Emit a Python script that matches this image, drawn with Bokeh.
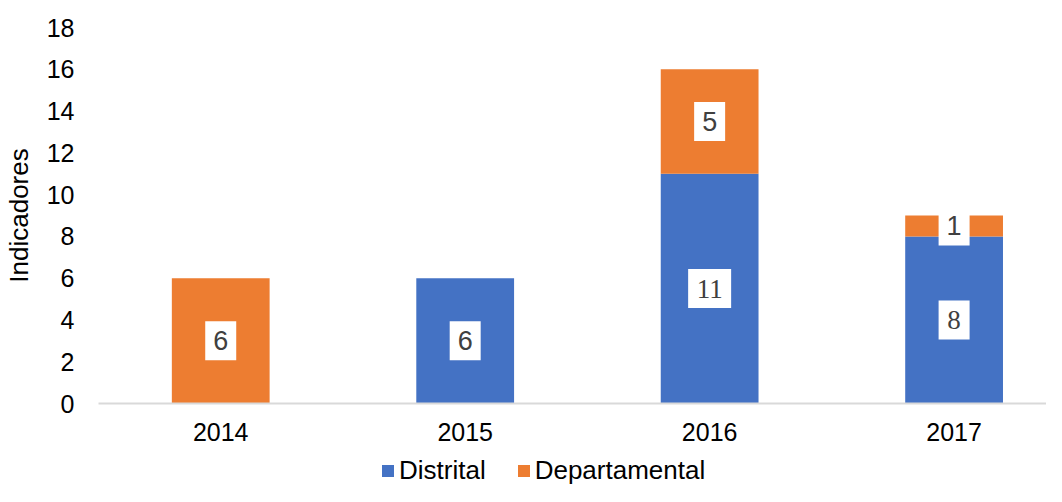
from bokeh.plotting import figure
from bokeh.layouts import column
from bokeh.models import Range1d, FixedTicker, Legend, LegendItem, ColumnDataSource
from bokeh.embed import file_html
from bokeh.resources import INLINE

# ---- data ----
years = ["2014", "2015", "2016", "2017"]
distrital = [0, 6, 11, 8]
departamental = [6, 0, 5, 1]
series_names = ["Distrital", "Departamental"]
y_ticks = [0, 2, 4, 6, 8, 10, 12, 14, 16, 18]

# ---- styles ----
colors = ["#4472C4", "#ED7D31"]
SANS = "Liberation Sans"
SERIF = "Liberation Serif"

xs = [i + 0.5 for i in range(len(years))]
totals = [a + b for a, b in zip(distrital, departamental)]

p = figure(width=1046, height=452, output_backend="svg", toolbar_location=None,
           x_range=Range1d(0, 3.878), y_range=Range1d(0, 18),
           min_border_left=96, min_border_right=0, min_border_top=27, min_border_bottom=49)

r1 = p.vbar(x=xs, bottom=0, top=distrital, width=0.4, fill_color=colors[0], line_color=None)
r2 = p.vbar(x=xs, bottom=distrital, top=totals, width=0.4, fill_color=colors[1], line_color=None)

# data labels in white boxes
lx, ly, lt, lw, lf = [], [], [], [], []
dist_fonts = [SANS, SANS, SERIF, SERIF]
for i in range(len(years)):
    if distrital[i] > 0:
        lx.append(xs[i]); ly.append(distrital[i] / 2); lt.append(str(distrital[i]))
        lw.append(31 if distrital[i] < 10 else 43); lf.append(dist_fonts[i])
    if departamental[i] > 0:
        lx.append(xs[i]); ly.append(distrital[i] + departamental[i] / 2); lt.append(str(departamental[i]))
        lw.append(31 if departamental[i] < 10 else 43); lf.append(SANS)
src = ColumnDataSource(dict(x=lx, y=ly, t=lt, w=lw, f=lf))
p.rect(x="x", y="y", width="w", height=39, width_units="screen", height_units="screen",
       source=src, fill_color="white", line_color=None)
p.text(x="x", y="y", text="t", source=src, text_font="f", text_font_size="27px",
       text_align="center", text_baseline="middle", text_color="#404040")

p.xgrid.visible = False
p.ygrid.visible = False
p.outline_line_color = None

p.xaxis.ticker = FixedTicker(ticks=xs)
p.xaxis.major_label_overrides = {x: y for x, y in zip(xs, years)}
p.xaxis.axis_line_color = "#D9D9D9"
p.xaxis.axis_line_width = 2
p.xaxis.major_tick_line_color = None
p.xaxis.minor_tick_line_color = None
p.xaxis.major_tick_out = 0
p.xaxis.major_label_standoff = 19
p.xaxis.major_label_text_font = SANS
p.xaxis.major_label_text_font_size = "25px"
p.xaxis.major_label_text_color = "#000000"

p.yaxis.ticker = FixedTicker(ticks=y_ticks)
p.yaxis.axis_line_color = None
p.yaxis.major_tick_line_color = None
p.yaxis.minor_tick_line_color = None
p.yaxis.major_tick_out = 0
p.yaxis.major_label_standoff = 24
p.yaxis.major_label_text_font = SANS
p.yaxis.major_label_text_font_size = "25px"
p.yaxis.major_label_text_color = "#000000"
p.yaxis.axis_label = "Indicadores"
p.yaxis.axis_label_text_font = SANS
p.yaxis.axis_label_text_font_size = "26px"
p.yaxis.axis_label_text_font_style = "normal"
p.yaxis.axis_label_text_color = "#000000"
p.yaxis.axis_label_standoff = 10

# legend strip below the chart (its bars lie outside its visible y range)
lg = figure(width=1046, height=34, output_backend="svg", toolbar_location=None,
            x_range=Range1d(0, 3.878), y_range=Range1d(100, 101),
            x_axis_location=None, y_axis_location=None, min_border=0)
lg.outline_line_color = None
lg.xgrid.visible = False
lg.ygrid.visible = False
d1 = lg.vbar(x=xs, bottom=0, top=distrital, width=0.4, fill_color=colors[0], line_color=None)
d2 = lg.vbar(x=xs, bottom=distrital, top=totals, width=0.4, fill_color=colors[1], line_color=None)
legend = Legend(items=[LegendItem(label=series_names[0], renderers=[d1]),
                       LegendItem(label=series_names[1], renderers=[d2])],
                orientation="horizontal", location=(282, 0),
                glyph_width=15, glyph_height=15, label_standoff=4, spacing=30,
                label_text_font=SANS, label_text_font_size="26px", label_text_color="#000000",
                padding=0, margin=0, border_line_color=None, background_fill_alpha=0)
lg.add_layout(legend, "center")

layout = column(p, lg, spacing=0)
open("out.html", "w").write(file_html(layout, INLINE))
